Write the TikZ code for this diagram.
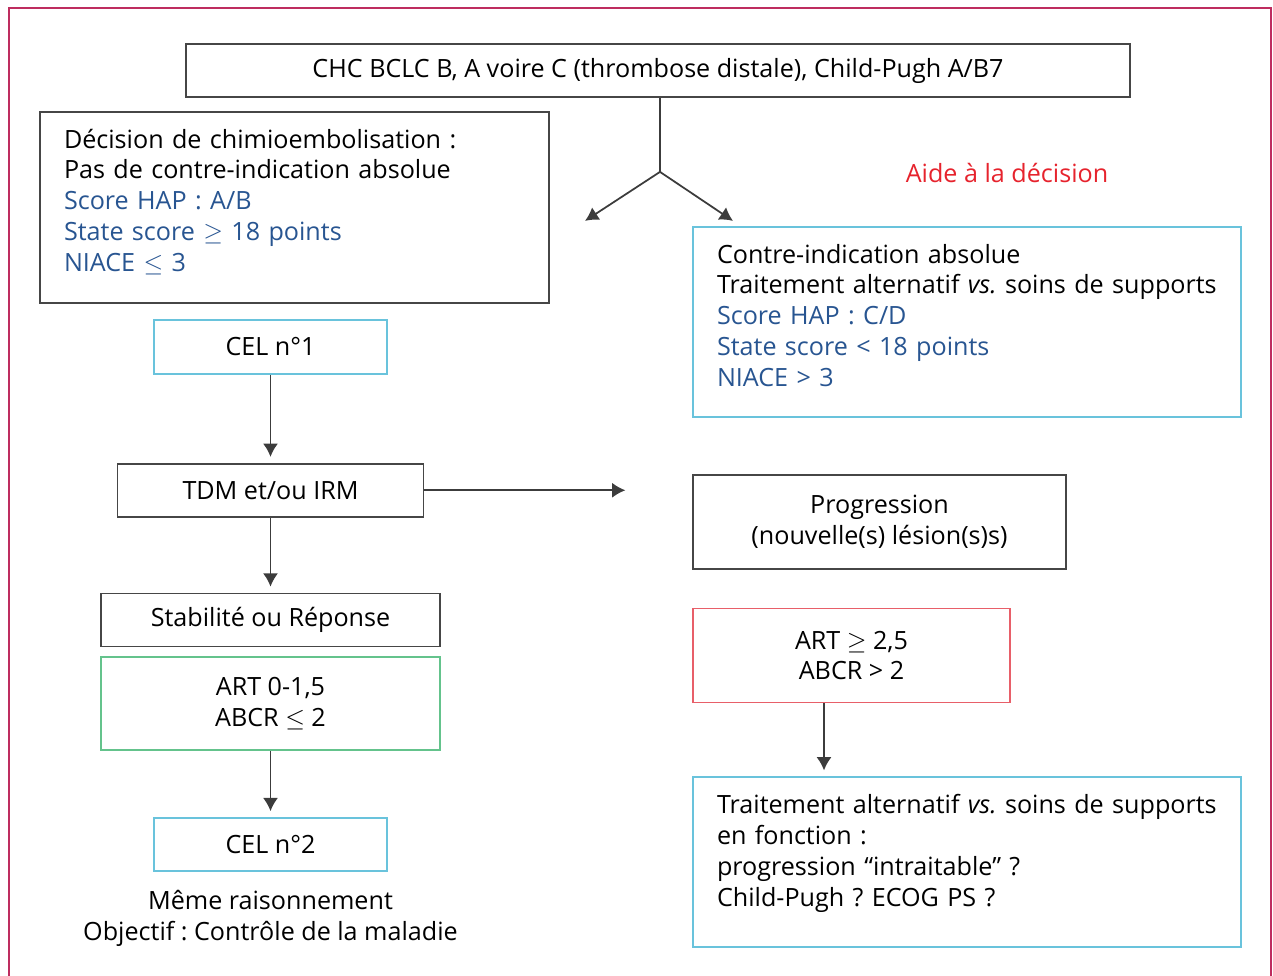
\documentclass[tikz,border=0pt]{standalone}
\usepackage{fontspec}
\setmainfont{Open Sans}
\usepackage{amssymb}
\usetikzlibrary{shapes,arrows.meta,positioning}
\frenchspacing

\definecolor{boxgray}{RGB}{70,70,70}
\definecolor{linegray}{RGB}{60,60,60}
\definecolor{boxcyan}{RGB}{105,195,220}
\definecolor{boxgreen}{RGB}{100,195,140}
\definecolor{boxred}{RGB}{232,95,105}
\definecolor{scoreblue}{RGB}{40,85,145}
\definecolor{aidered}{RGB}{230,35,45}
\definecolor{framered}{RGB}{190,45,95}

\begin{document}
\begin{tikzpicture}[
    node distance=1.5cm,
    font=\fontsize{14.3}{17.6}\selectfont,
    box/.style={draw=boxgray, rectangle, line width=1pt, inner sep=0pt, align=center},
    infobox/.style={draw=boxgray, rectangle, line width=1pt, inner xsep=0.48cm, inner ysep=0pt, align=left, text height=0.72cm},
    arrow/.style={-{Latex[length=7.5pt,width=8.5pt]}, line width=1pt, draw=linegray, shorten >=0.12cm}
]

\useasboundingbox (0,0) rectangle (25.46,-19.5);
\draw[framered, line width=1pt] (0.18,-0.16) rectangle (25.42,-20);

% Top box
\node[box, minimum width=18.88cm, minimum height=1.06cm] (chc) at (13.16,-1.41) {CHC BCLC B, A voire C (thrombose distale), Child-Pugh A/B7};

% Decision boxes
\node[infobox, text width=9.22cm, text depth=3.1cm] (decision) at (5.89,-4.15) {Décision de chimioembolisation :\\ Pas de contre-indication absolue\\ \textcolor{scoreblue}{Score HAP : A/B}\\ \textcolor{scoreblue}{State score $\geq$ 18 points}\\ \textcolor{scoreblue}{NIACE $\leq$ 3}};
\node[text=aidered] (aide) at (20.14,-3.46) {Aide à la décision};
\node[infobox, draw=boxcyan, text width=10.0cm, text depth=3.08cm] (contre) at (19.34,-6.44) {Contre-indication absolue\\ Traitement alternatif \textit{vs.} soins de supports\\ \textcolor{scoreblue}{Score HAP : C/D}\\ \textcolor{scoreblue}{State score < 18 points}\\ \textcolor{scoreblue}{NIACE > 3}};

% Left column
\node[box, draw=boxcyan, minimum width=4.66cm, minimum height=1.08cm] (cel1) at (5.41,-6.94) {CEL n°1};
\node[box, below=1.76cm of cel1, minimum width=6.12cm, minimum height=1.06cm] (tdm) {TDM et/ou IRM};
\node[box, below=1.5cm of tdm, minimum width=6.78cm, minimum height=1.06cm] (stab) {Stabilité ou Réponse};
\node[box, draw=boxgreen, below=0.18cm of stab, minimum width=6.78cm, minimum height=1.86cm] (artlow) {ART 0-1,5\\ ABCR $\leq$ 2};
\node[box, draw=boxcyan, below=1.32cm of artlow, minimum width=4.66cm, minimum height=1.06cm] (cel2) {CEL n°2};
\node[align=center, below=0.24cm of cel2] (note) {Même raisonnement\\ Objectif : Contrôle de la maladie};

% Right column
\node[box, below=1.12cm of contre.south west, anchor=north west, minimum width=7.46cm, minimum height=1.88cm] (prog) {Progression\\ (nouvelle(s) lésion(s)s)};
\node[box, draw=boxred, below=0.76cm of prog.south west, anchor=north west, minimum width=6.34cm, minimum height=1.88cm] (arthigh) {ART $\geq$ 2,5\\ ABCR > 2};
\node[infobox, draw=boxcyan, below=1.46cm of arthigh.south west, anchor=north west, text width=10.0cm, text depth=2.68cm] (alt) {Traitement alternatif \textit{vs.} soins de supports\\ en fonction :\\ progression “intraitable” ?\\ Child-Pugh ? ECOG PS ?};

% Arrows
\coordinate (fork) at ([xshift=0.04cm, yshift=-1.48cm]chc.south);
\coordinate (forkleft) at ([xshift=-1.5cm, yshift=-0.98cm]fork);
\coordinate (forkright) at ([xshift=1.46cm, yshift=-0.98cm]fork);
\coordinate (tdmend) at ([xshift=4.02cm]tdm.east);
\draw[line width=1pt, linegray] (fork |- chc.south) -- (fork);
\draw[arrow, shorten >=0pt] (fork) -- (forkleft);
\draw[arrow, shorten >=0pt] (fork) -- (forkright);
\draw[arrow] (cel1) -- (tdm);
\draw[arrow, shorten >=0pt] (tdm) -- (tdmend);
\draw[arrow] (tdm) -- (stab);
\draw[arrow] (artlow) -- (cel2);
\draw[arrow] ([xshift=-0.55cm]arthigh.south) -- ([xshift=-0.55cm]arthigh.south |- alt.north);

\end{tikzpicture}
\end{document}
